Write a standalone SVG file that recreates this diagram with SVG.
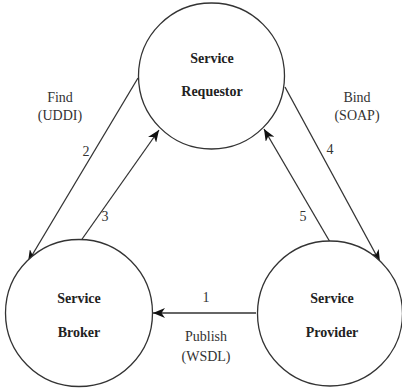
<svg xmlns="http://www.w3.org/2000/svg" width="402" height="391" viewBox="0 0 402 391">
<style>
.node circle{fill:#fff;stroke:#333;stroke-width:1.3}
.edge{stroke:#333;stroke-width:1.3;fill:none}
</style>
<defs>
<marker id="arr" viewBox="0 0 12 10" refX="12" refY="5" markerWidth="12" markerHeight="10" markerUnits="userSpaceOnUse" orient="auto">
<path d="M0,0 L12,5 L0,10 L3.5,5 z" fill="#111"/>
</marker>
</defs>
<rect width="402" height="391" fill="#fff"/>
<g id="connectors">
<line class="edge" x1="256" y1="313" x2="153" y2="313" marker-end="url(#arr)"/>
<line class="edge" x1="138" y1="78" x2="28" y2="262" marker-end="url(#arr)"/>
<line class="edge" x1="80" y1="242" x2="159" y2="130" marker-end="url(#arr)"/>
<line class="edge" x1="285" y1="87" x2="380" y2="262" marker-end="url(#arr)"/>
<line class="edge" x1="330" y1="242" x2="264" y2="129" marker-end="url(#arr)"/>
</g>
<g id="labels" font-family="Liberation Serif" font-size="14" fill="#333" text-anchor="middle">
<text x="206" y="302">1</text>
<text x="206" y="341">Publish</text>
<text x="206" y="361">(WSDL)</text>
<text x="86" y="156">2</text>
<text x="105" y="221">3</text>
<text x="330" y="154">4</text>
<text x="303" y="221">5</text>
<text x="60" y="102">Find</text>
<text x="60" y="120">(UDDI)</text>
<text x="357" y="102">Bind</text>
<text x="357" y="120">(SOAP)</text>
</g>
<g id="requestor" class="node">
<circle cx="211.5" cy="76" r="73"/>
<text x="212" y="63" font-family="Liberation Serif" font-size="14" font-weight="bold" fill="#222" text-anchor="middle">Service</text>
<text x="212" y="96" font-family="Liberation Serif" font-size="14" font-weight="bold" fill="#222" text-anchor="middle">Requestor</text>
</g>
<g id="broker" class="node">
<circle cx="79" cy="313" r="73.5"/>
<text x="79" y="303" font-family="Liberation Serif" font-size="14" font-weight="bold" fill="#222" text-anchor="middle">Service</text>
<text x="79" y="337" font-family="Liberation Serif" font-size="14" font-weight="bold" fill="#222" text-anchor="middle">Broker</text>
</g>
<g id="provider" class="node">
<circle cx="330" cy="313.5" r="72.5"/>
<text x="332" y="303" font-family="Liberation Serif" font-size="14" font-weight="bold" fill="#222" text-anchor="middle">Service</text>
<text x="332" y="337" font-family="Liberation Serif" font-size="14" font-weight="bold" fill="#222" text-anchor="middle">Provider</text>
</g>
</svg>
